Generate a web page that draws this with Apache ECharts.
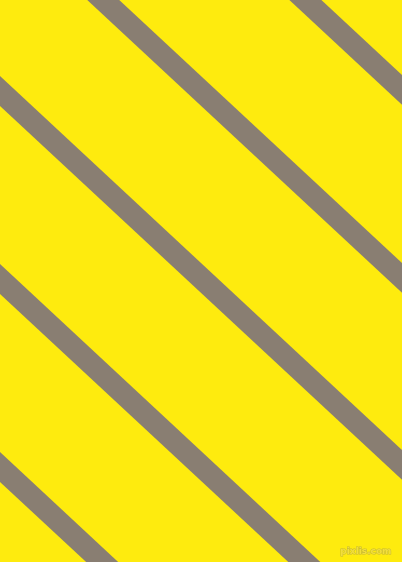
<!DOCTYPE html>
<html>
<head>
<meta charset="utf-8">
<style>
  html, body { margin: 0; padding: 0; background: #feeb0e; }
  #chart { width: 402px; height: 562px; }
</style>
<script src="https://cdn.jsdelivr.net/npm/echarts@6/dist/echarts.min.js"></script>
</head>
<body>
<div id="chart"></div>
<script>
// Stripe centerlines: y value where each stripe crosses x = 0 (pixel units of the 402x562 plane)
const stripeOffsets = [-284, -96, 91, 279, 467];
// Rise per unit run of every stripe (about 43 degrees)
const stripeSlope = 0.93;
// Plane extent
const xExtent = [0, 402];
const yExtent = [0, 562];
// Watermark text
const watermark = 'pixlis.com';

const xStart = xExtent[0] - 40;
const xEnd = xExtent[1] + 40;

const series = stripeOffsets.map(function (b, i) {
  return {
    type: 'line',
    name: 'stripe' + (i + 1),
    data: [[xStart, b + stripeSlope * xStart], [xEnd, b + stripeSlope * xEnd]],
    symbol: 'none',
    clip: true,
    silent: true,
    animation: false,
    lineStyle: { color: '#897e72', width: 21.8, cap: 'butt' }
  };
});

const chart = echarts.init(document.getElementById('chart'), null, { renderer: 'canvas' });
chart.setOption({
  backgroundColor: '#feeb0e',
  animation: false,
  grid: { left: 0, right: 0, top: 0, bottom: 0, containLabel: false },
  xAxis: {
    type: 'value', min: xExtent[0], max: xExtent[1],
    show: false, splitLine: { show: false }
  },
  yAxis: {
    type: 'value', min: yExtent[0], max: yExtent[1], inverse: true,
    show: false, splitLine: { show: false }
  },
  series: series,
  graphic: [{
    type: 'text',
    right: 10,
    bottom: 5,
    silent: true,
    style: {
      text: watermark,
      font: 'bold 9px "DejaVu Sans", sans-serif',
      fill: '#f3df3a',
      stroke: 'rgba(150,140,90,0.55)',
      lineWidth: 1
    }
  }]
});
</script>
</body>
</html>
